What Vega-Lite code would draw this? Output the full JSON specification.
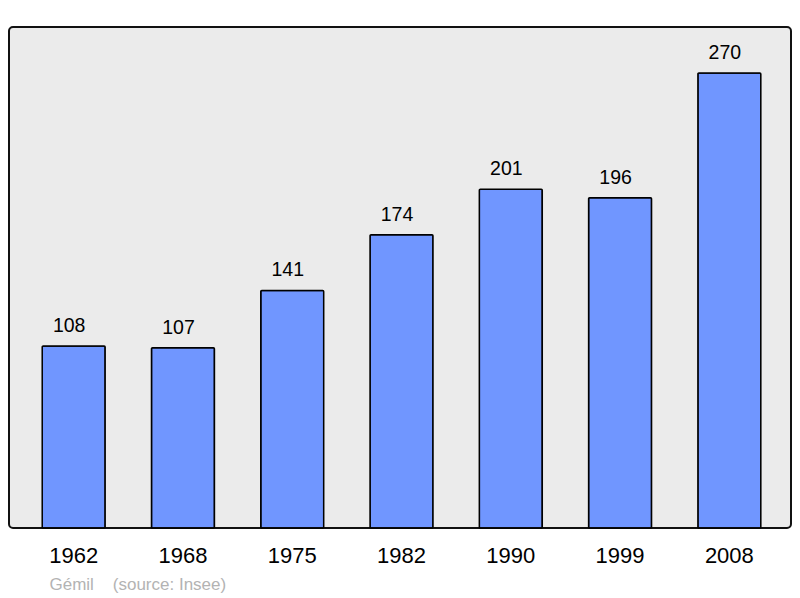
{
  "$schema": "https://vega.github.io/schema/vega-lite/v6.json",
  "autosize": {"type": "none"},
  "width": 782,
  "height": 501,
  "padding": {"left": 9, "top": 27, "right": 9, "bottom": 70},
  "background": "white",
  "config": {
    "view": {"fill": "#ebebeb", "stroke": "#111111", "strokeWidth": 2, "cornerRadius": 4},
    "font": "Liberation Sans"
  },
  "data": {
    "values": [
      {"year": "1962", "pop": 108},
      {"year": "1968", "pop": 107},
      {"year": "1975", "pop": 141},
      {"year": "1982", "pop": 174},
      {"year": "1990", "pop": 201},
      {"year": "1999", "pop": 196},
      {"year": "2008", "pop": 270}
    ]
  },
  "encoding": {
    "x": {
      "field": "year",
      "type": "ordinal",
      "sort": null,
      "scale": {"paddingInner": 0.424, "paddingOuter": 0.29, "align": 0.524},
      "axis": {
        "title": "Gémil\u00a0\u00a0\u00a0\u00a0(source: Insee)",
        "titleFont": "Liberation Sans",
        "titleFontSize": 17,
        "titleFontWeight": "normal",
        "titleColor": "#b3b3b3",
        "titleAnchor": "start",
        "titleAlign": "left",
        "titleBaseline": "alphabetic",
        "titleX": 40,
        "titleY": 61,
        "labelAngle": 0,
        "labelFontSize": 22,
        "labelColor": "#000000",
        "labelPadding": 17,
        "domain": false,
        "ticks": false,
        "grid": false
      }
    },
    "y": {
      "field": "pop",
      "type": "quantitative",
      "scale": {"domain": [0, 297.3], "nice": false},
      "axis": null
    }
  },
  "layer": [
    {
      "mark": {"type": "bar", "color": "#7096ff", "stroke": "#000000", "strokeWidth": 1.5, "cornerRadius": 1}
    },
    {
      "mark": {"type": "text", "baseline": "alphabetic", "dy": -14, "dx": -4.5, "fontSize": 19.5, "color": "#000000"},
      "encoding": {"text": {"field": "pop", "type": "quantitative"}}
    }
  ]
}
